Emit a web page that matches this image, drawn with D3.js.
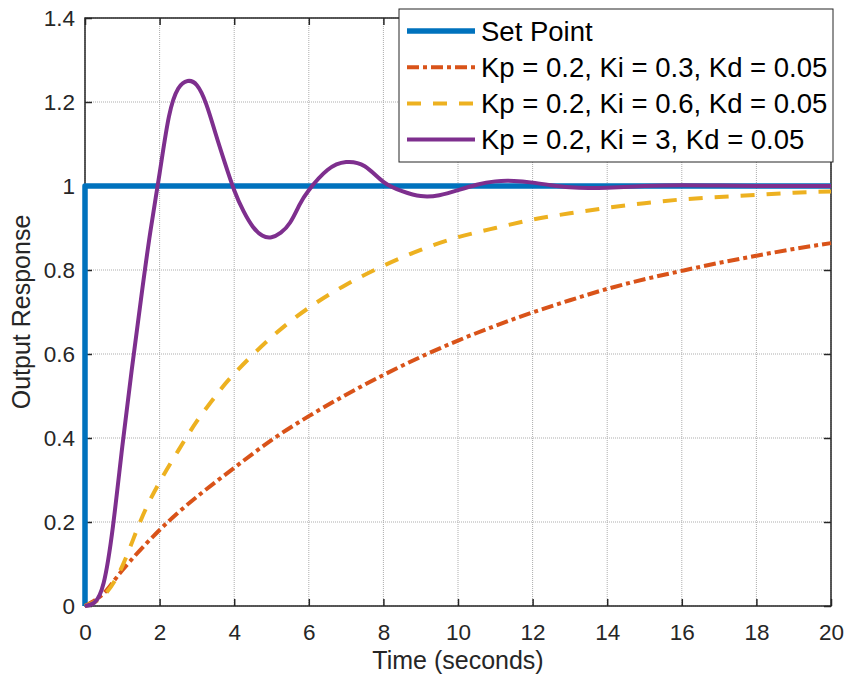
<!DOCTYPE html>
<html>
<head>
<meta charset="utf-8">
<script src="https://cdn.jsdelivr.net/npm/d3@7"></script>
<style>
    body { margin: 0; background: #fff; }
    text { font-family: "Liberation Sans", Arial, sans-serif; }
</style>
</head>
<body>
<div id="chart"></div>
<script>
// values
const seriesNames = [
    "Set Point",
    "Kp = 0.2, Ki = 0.3, Kd = 0.05",
    "Kp = 0.2, Ki = 0.6, Kd = 0.05",
    "Kp = 0.2, Ki = 3, Kd = 0.05"
];

const setPointT = [0, 0, 20];
const setPointY = [0, 1, 1];

const ki03T = [0, 0.5, 1, 2, 3, 4, 5, 6, 7, 8, 9, 10, 11, 12, 13, 14, 15, 16, 17, 18, 19, 20];
const ki03Y = [0, 0.03, 0.085, 0.181, 0.26, 0.329, 0.395, 0.452, 0.503, 0.55, 0.593, 0.632, 0.667, 0.699, 0.728, 0.755, 0.778, 0.798, 0.817, 0.834, 0.85, 0.864];

const ki06T = [0, 0.5, 1, 1.5, 2, 2.5, 3, 3.5, 4, 5, 6, 7, 8, 9, 10, 11, 12, 13, 14, 15, 16, 17, 18, 19, 20];
const ki06Y = [0, 0.025, 0.095, 0.205, 0.295, 0.37, 0.44, 0.5, 0.553, 0.64, 0.71, 0.765, 0.81, 0.848, 0.878, 0.9, 0.92, 0.935, 0.948, 0.959, 0.968, 0.974, 0.979, 0.984, 0.987];

const ki3T = [0, 0.25, 0.5, 0.75, 1, 1.25, 1.5, 1.75, 2, 2.25, 2.5, 2.75, 3, 3.25, 3.5, 3.75, 4, 4.25, 4.5, 4.75, 5, 5.25, 5.5, 5.75, 6, 6.5, 7, 7.5, 8, 8.5, 9, 9.5, 10, 10.5, 11, 11.5, 12, 12.5, 13, 13.5, 14, 15, 16, 17, 18, 20];
const ki3Y = [0, 0.008, 0.055, 0.19, 0.38, 0.56, 0.73, 0.89, 1.03, 1.165, 1.232, 1.25, 1.24, 1.195, 1.125, 1.055, 0.99, 0.94, 0.903, 0.882, 0.878, 0.889, 0.913, 0.955, 0.99, 1.038, 1.057, 1.047, 1.01, 0.988, 0.976, 0.978, 0.99, 1.003, 1.011, 1.012, 1.008, 1.002, 0.997, 0.995, 0.996, 1.0, 1.002, 1.001, 1.0, 1.0];

const xTicks = [0, 2, 4, 6, 8, 10, 12, 14, 16, 18, 20];
const yTicks = [0, 0.2, 0.4, 0.6, 0.8, 1, 1.2, 1.4];

const width = 848, height = 679;
const plotLeft = 85, plotRight = 831, plotTop = 18, plotBottom = 606;

const svg = d3.select("#chart")
    .append("svg")
    .attr("width", width)
    .attr("height", height);

const x = d3.scaleLinear().domain([0, 20]).range([plotLeft, plotRight]);
const y = d3.scaleLinear().domain([0, 1.4]).range([plotBottom, plotTop]);

// grid
svg.append("g").selectAll("line")
    .data(xTicks)
    .enter().append("line")
    .attr("x1", d => x(d)).attr("x2", d => x(d))
    .attr("y1", plotTop).attr("y2", plotBottom)
    .attr("stroke", "#adadad")
    .attr("stroke-width", 1)
    .attr("stroke-dasharray", "1,1");

svg.append("g").selectAll("line")
    .data(yTicks)
    .enter().append("line")
    .attr("x1", plotLeft).attr("x2", plotRight)
    .attr("y1", d => y(d)).attr("y2", d => y(d))
    .attr("stroke", "#adadad")
    .attr("stroke-width", 1)
    .attr("stroke-dasharray", "1,1");

// axes, ticks pointing inward
const xAxis = svg.append("g")
    .attr("transform", `translate(0,${plotBottom})`)
    .call(d3.axisBottom(x).tickValues(xTicks).tickSize(-7).tickPadding(18).tickFormat(d3.format("d")));
const yAxis = svg.append("g")
    .attr("transform", `translate(${plotLeft},0)`)
    .call(d3.axisLeft(y).tickValues(yTicks).tickSize(-7).tickPadding(10).tickFormat(d => String(d)));
const xTop = svg.append("g")
    .attr("transform", `translate(0,${plotTop})`)
    .call(d3.axisTop(x).tickValues(xTicks).tickSize(-7).tickFormat(""));
const yRight = svg.append("g")
    .attr("transform", `translate(${plotRight},0)`)
    .call(d3.axisRight(y).tickValues(yTicks).tickSize(-7).tickFormat(""));

[xAxis, yAxis, xTop, yRight].forEach(g => {
    g.select(".domain").remove();
    g.selectAll("line").attr("stroke", "#262626").attr("stroke-width", 1.5);
    g.selectAll("text")
        .attr("fill", "#262626")
        .style("font-size", "22.5px")
        .style("font-family", "'Liberation Sans', Arial, sans-serif");
});

svg.append("rect")
    .attr("x", plotLeft).attr("y", plotTop)
    .attr("width", plotRight - plotLeft).attr("height", plotBottom - plotTop)
    .attr("fill", "none")
    .attr("stroke", "#262626")
    .attr("stroke-width", 1.5);

// axis labels
svg.append("text")
    .attr("x", (plotLeft + plotRight) / 2)
    .attr("y", 669)
    .attr("text-anchor", "middle")
    .attr("fill", "#262626")
    .style("font-size", "25px")
    .text("Time (seconds)");

svg.append("text")
    .attr("transform", `translate(30,${(plotTop + plotBottom) / 2}) rotate(-90)`)
    .attr("text-anchor", "middle")
    .attr("fill", "#262626")
    .style("font-size", "25px")
    .text("Output Response");

// lines
const series = [
    { t: setPointT, v: setPointY, color: "#0072BD", w: 5.5, dash: null, curve: d3.curveLinear },
    { t: ki03T, v: ki03Y, color: "#D95319", w: 4, dash: "12,4,4,4", curve: d3.curveNatural },
    { t: ki06T, v: ki06Y, color: "#EDB120", w: 4, dash: "14,12", curve: d3.curveNatural },
    { t: ki3T, v: ki3Y, color: "#7E2F8E", w: 4, dash: null, curve: d3.curveNatural }
];

const plot = svg.append("g");
series.forEach(s => {
    const pts = s.t.map((t, i) => [t, s.v[i]]);
    const line = d3.line()
        .x(d => x(d[0]))
        .y(d => y(d[1]))
        .curve(s.curve);
    plot.append("path")
        .datum(pts)
        .attr("d", line)
        .attr("fill", "none")
        .attr("stroke", s.color)
        .attr("stroke-width", s.w)
        .attr("stroke-linejoin", "round")
        .attr("stroke-dasharray", s.dash);
});

// legend
const legend = svg.append("g");
legend.append("rect")
    .attr("x", 399).attr("y", 9)
    .attr("width", 434).attr("height", 153)
    .attr("fill", "#fff")
    .attr("stroke", "#262626")
    .attr("stroke-width", 1);

const rows = legend.selectAll("g.row")
    .data(series)
    .enter().append("g")
    .attr("class", "row")
    .attr("transform", (d, i) => `translate(0,${31 + i * 36.2})`);

rows.append("line")
    .attr("x1", 407).attr("x2", 475)
    .attr("y1", 0).attr("y2", 0)
    .attr("stroke", d => d.color)
    .attr("stroke-width", d => d.w)
    .attr("stroke-dasharray", d => d.dash);

rows.append("text")
    .attr("x", 481)
    .attr("y", 0)
    .attr("dy", "0.35em")
    .attr("fill", "#000")
    .style("font-size", "27.5px")
    .text((d, i) => seriesNames[i]);
</script>
</body>
</html>
